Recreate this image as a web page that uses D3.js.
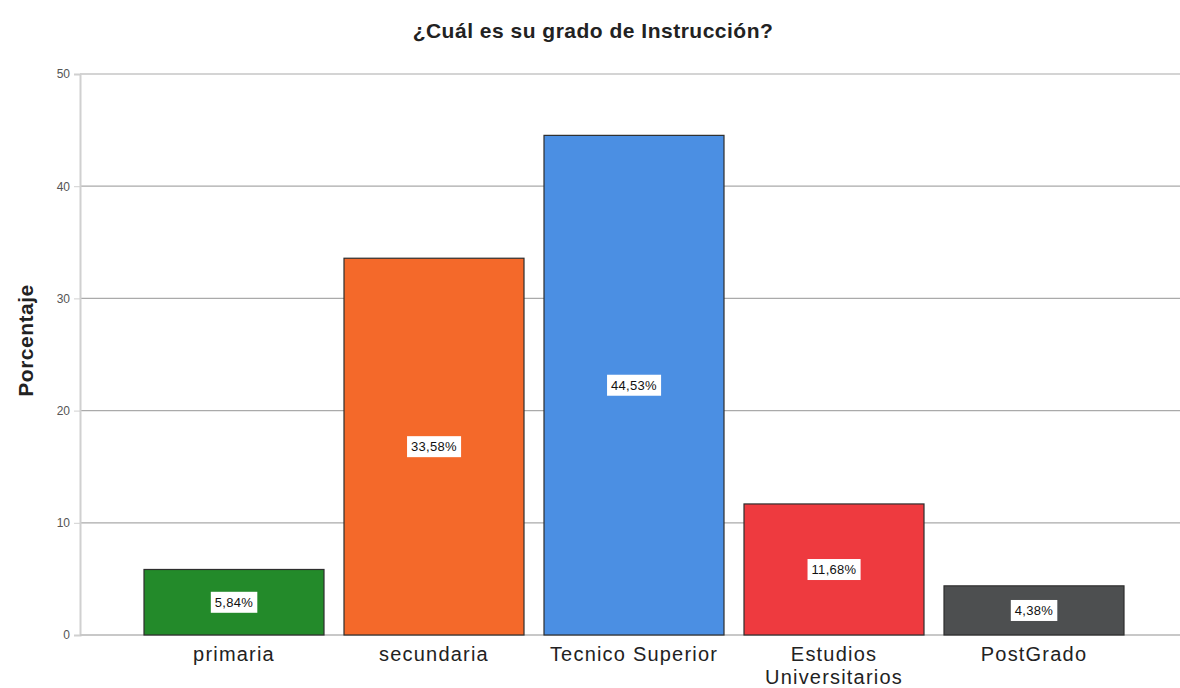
<!DOCTYPE html>
<html>
<head>
<meta charset="utf-8">
<script src="https://cdn.jsdelivr.net/npm/d3@7"></script>
<style>
  body { margin: 0; background: #fff; }
  svg { font-family: "Liberation Sans", Arial, sans-serif; }
</style>
</head>
<body>
<svg id="chart" width="1180" height="688"></svg>
<script>
// bar chart, percentage by education level

const categories = ["primaria", "secundaria", "Tecnico Superior", "Estudios Universitarios", "PostGrado"];
const percentages = [5.84, 33.58, 44.53, 11.68, 4.38];
const labels = ["5,84%", "33,58%", "44,53%", "11,68%", "4,38%"];
const yTicks = [0, 10, 20, 30, 40, 50];
const barColors = ["#238a2a", "#f4692a", "#4b8fe3", "#ee3a3f", "#4d4f50"];

const w = 1180;
const h = 688;
const margin = {top: 74, left: 80, bottom: 53, right: 0};

const data = categories.map((c, i) => ({cat: c, val: percentages[i], label: labels[i], color: barColors[i]}));

const svg = d3.select("#chart");

// SCALES
const yScale = d3.scaleLinear()
    .domain([0, 50])
    .range([h - margin.bottom, margin.top]);

const xScale = d3.scaleBand()
    .domain(categories)
    .range([134, 1134])
    .paddingInner(0.1)
    .paddingOuter(0.05);

// GRID
svg.append("g")
    .attr("class", "grid")
    .selectAll("line")
    .data(yTicks.slice(1))
    .join("line")
    .attr("x1", margin.left)
    .attr("x2", w)
    .attr("y1", d => yScale(d))
    .attr("y2", d => yScale(d))
    .attr("stroke", "#aaaaaa")
    .attr("stroke-width", 1.2);

// Y AXIS
const yAxis = d3.axisLeft(yScale)
    .tickValues(yTicks)
    .tickSize(6)
    .tickFormat(d3.format("d"));

const yG = svg.append("g")
    .attr("transform", `translate(${margin.left},0)`)
    .call(yAxis);
yG.select(".domain").attr("stroke", "#d0d0d0").attr("stroke-width", 2);
yG.selectAll(".tick line").attr("stroke", "#d0d0d0");
yG.selectAll(".tick text")
    .attr("fill", "#555")
    .attr("font-size", 12)
    .attr("x", -10);

// baseline
svg.append("line")
    .attr("x1", margin.left)
    .attr("x2", w)
    .attr("y1", yScale(0))
    .attr("y2", yScale(0))
    .attr("stroke", "#c8c8c8")
    .attr("stroke-width", 2);

// BARS
svg.selectAll(".bar")
    .data(data)
    .join("rect")
    .attr("class", "bar")
    .attr("x", d => xScale(d.cat))
    .attr("width", xScale.bandwidth())
    .attr("y", d => yScale(d.val))
    .attr("height", d => yScale(0) - yScale(d.val))
    .attr("fill", d => d.color)
    .attr("stroke", "#2e2e2e")
    .attr("stroke-width", 1.2);

// VALUE LABELS
const lab = svg.selectAll(".lab")
    .data(data)
    .join("g")
    .attr("class", "lab")
    .attr("transform", d => `translate(${xScale(d.cat) + xScale.bandwidth() / 2},${(yScale(d.val) + yScale(0)) / 2})`);

lab.append("text")
    .attr("text-anchor", "middle")
    .attr("dy", "0.35em")
    .attr("font-size", 13)
    .attr("letter-spacing", 0.3)
    .attr("fill", "#111")
    .text(d => d.label)
    .each(function() {
        const bb = this.getBBox();
        d3.select(this.parentNode).insert("rect", "text")
            .attr("x", bb.x - 4)
            .attr("y", bb.y - 3)
            .attr("width", bb.width + 8)
            .attr("height", bb.height + 6)
            .attr("fill", "#fff");
    });

// X LABELS (one text per line, so the two lines of Estudios Universitarios stay apart)
const xLines = data.flatMap(d => {
    const parts = d.cat === "Estudios Universitarios" ? ["Estudios", "Universitarios"] : [d.cat];
    return parts.map((p, i) => ({cat: d.cat, text: p, line: i}));
});

svg.selectAll(".xlab")
    .data(xLines)
    .join("text")
    .attr("class", "xlab")
    .attr("text-anchor", "middle")
    .attr("font-size", 20)
    .attr("letter-spacing", 1.2)
    .attr("fill", "#222")
    .attr("x", d => xScale(d.cat) + xScale.bandwidth() / 2)
    .attr("y", d => 661 + d.line * 23)
    .text(d => d.text);

// TITLE
svg.append("text")
    .attr("x", 593)
    .attr("y", 38)
    .attr("text-anchor", "middle")
    .attr("font-size", 21)
    .attr("font-weight", "bold")
    .attr("letter-spacing", 0.5)
    .attr("fill", "#222")
    .text("¿Cuál es su grado de Instrucción?");

// Y LABEL
svg.append("text")
    .attr("transform", `translate(33,${(yScale(0) + yScale(50)) / 2 - 14}) rotate(-90)`)
    .attr("text-anchor", "middle")
    .attr("font-size", 21)
    .attr("font-weight", "bold")
    .attr("letter-spacing", 0.5)
    .attr("fill", "#222")
    .text("Porcentaje");
</script>
</body>
</html>
